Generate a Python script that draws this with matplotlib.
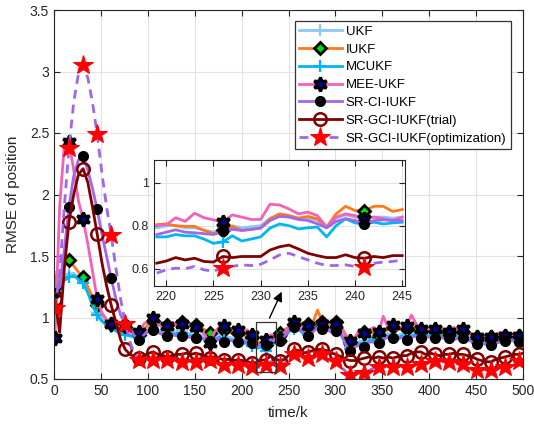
import numpy as np
import matplotlib
matplotlib.use("Agg")
import matplotlib.pyplot as plt
from matplotlib.patches import Rectangle

plt.rcParams['font.family'] = ['Liberation Sans', 'DejaVu Sans']

# ---------------- data (RMSE of position, sampled every 5 steps) ----------------
time_k = np.r_[np.arange(1, 500, 5), 500]

ukf = [1.33, 1.28, 1.32, 1.35, 1.36, 1.33, 1.30, 1.22, 1.12, 1.04,
       0.99, 0.96, 0.94, 0.91, 0.89, 0.88, 0.86, 0.85, 0.84, 0.87,
       0.90, 0.92, 0.90, 0.88, 0.88, 0.89, 0.88, 0.89, 0.87, 0.87,
       0.86, 0.86, 0.84, 0.83, 0.84, 0.86, 0.84, 0.84, 0.83, 0.82,
       0.82, 0.83, 0.81, 0.79, 0.80, 0.79, 0.83, 0.82, 0.82, 0.86,
       0.91, 0.93, 0.92, 0.89, 0.88, 0.90, 0.95, 0.93, 0.92, 0.90,
       0.91, 0.88, 0.81, 0.76, 0.79, 0.81, 0.80, 0.83, 0.83, 0.82,
       0.85, 0.87, 0.86, 0.85, 0.87, 0.85, 0.87, 0.88, 0.86, 0.87,
       0.87, 0.86, 0.87, 0.86, 0.86, 0.85, 0.86, 0.86, 0.85, 0.83,
       0.81, 0.82, 0.81, 0.81, 0.82, 0.83, 0.83, 0.84, 0.83, 0.82,
       0.83]

iukf = [1.25, 1.35, 1.42, 1.47, 1.42, 1.37, 1.33, 1.25, 1.17, 1.10,
        1.03, 0.98, 0.95, 0.93, 0.92, 0.92, 0.90, 0.87, 0.86, 0.90,
        0.95, 0.97, 0.95, 0.92, 0.94, 0.93, 0.95, 0.965, 0.95, 0.93,
        0.94, 0.92, 0.90, 0.87, 0.88, 0.90, 0.90, 0.88, 0.87, 0.87,
        0.86, 0.85, 0.84, 0.80, 0.80, 0.775, 0.83, 0.83, 0.87, 0.90,
        0.93, 0.95, 0.97, 0.93, 0.95, 0.96, 1.06, 0.965, 0.95, 0.94,
        0.965, 0.93, 0.86, 0.80, 0.84, 0.88, 0.88, 0.90, 0.87, 0.84,
        0.88, 0.90, 0.92, 0.90, 0.92, 0.91, 0.93, 0.92, 0.89, 0.90,
        0.90, 0.90, 0.91, 0.89, 0.88, 0.89, 0.87, 0.88, 0.87, 0.86,
        0.84, 0.85, 0.86, 0.84, 0.86, 0.87, 0.85, 0.86, 0.85, 0.85,
        0.86]

mcukf = [1.30, 1.25, 1.30, 1.33, 1.34, 1.31, 1.28, 1.20, 1.10, 1.02,
         0.97, 0.94, 0.92, 0.89, 0.87, 0.86, 0.85, 0.84, 0.83, 0.86,
         0.89, 0.90, 0.88, 0.86, 0.86, 0.87, 0.86, 0.87, 0.85, 0.85,
         0.84, 0.84, 0.82, 0.80, 0.82, 0.84, 0.82, 0.82, 0.81, 0.80,
         0.79, 0.79, 0.77, 0.75, 0.76, 0.725, 0.79, 0.79, 0.81, 0.84,
         0.89, 0.91, 0.90, 0.87, 0.86, 0.89, 0.94, 0.92, 0.91, 0.88,
         0.89, 0.86, 0.80, 0.74, 0.77, 0.79, 0.78, 0.81, 0.82, 0.80,
         0.83, 0.85, 0.84, 0.83, 0.85, 0.83, 0.85, 0.86, 0.84, 0.85,
         0.85, 0.84, 0.85, 0.84, 0.84, 0.83, 0.84, 0.84, 0.83, 0.81,
         0.79, 0.80, 0.79, 0.79, 0.80, 0.81, 0.81, 0.82, 0.81, 0.80,
         0.81]

mee_ukf = [0.83, 1.90, 2.40, 2.43, 2.20, 1.95, 1.80, 1.60, 1.38, 1.15,
           1.04, 0.98, 0.95, 0.93, 0.92, 0.93, 0.90, 0.88, 0.88, 0.95,
           0.97, 1.00, 0.95, 0.92, 0.93, 0.96, 0.94, 0.95, 0.93, 0.95,
           0.92, 0.90, 0.86, 0.79, 0.88, 0.92, 0.93, 0.90, 0.92, 0.90,
           0.88, 0.90, 0.86, 0.83, 0.84, 0.82, 0.86, 0.85, 0.835, 0.88,
           0.93, 0.965, 0.95, 0.92, 0.93, 0.95, 0.97, 0.95, 0.96, 0.93,
           0.95, 0.92, 0.85, 0.81, 0.84, 0.90, 0.87, 0.90, 0.92, 0.88,
           1.01, 0.92, 0.935, 0.90, 0.92, 0.93, 1.02, 0.95, 0.905, 0.92,
           0.90, 0.905, 0.92, 0.90, 0.88, 0.92, 0.90, 0.905, 0.88, 0.86,
           0.84, 0.86, 0.85, 0.84, 0.86, 0.88, 0.85, 0.87, 0.86, 0.85,
           0.86]

sr_ci_iukf = [1.20, 1.25, 1.55, 1.90, 2.15, 2.28, 2.31, 2.20, 2.05, 1.88,
              1.68, 1.50, 1.32, 1.15, 1.02, 0.95, 0.90, 0.85, 0.82, 0.86,
              0.90, 0.90, 0.88, 0.86, 0.85, 0.86, 0.85, 0.85, 0.84, 0.84,
              0.83, 0.84, 0.82, 0.81, 0.82, 0.83, 0.80, 0.82, 0.81, 0.80,
              0.80, 0.81, 0.79, 0.77, 0.78, 0.775, 0.82, 0.81, 0.805, 0.85,
              0.90, 0.92, 0.90, 0.88, 0.85, 0.88, 0.92, 0.91, 0.90, 0.88,
              0.89, 0.86, 0.78, 0.73, 0.76, 0.78, 0.76, 0.80, 0.80, 0.79,
              0.82, 0.84, 0.83, 0.82, 0.84, 0.82, 0.84, 0.85, 0.83, 0.84,
              0.84, 0.83, 0.84, 0.83, 0.83, 0.82, 0.83, 0.83, 0.82, 0.80,
              0.785, 0.79, 0.78, 0.78, 0.79, 0.80, 0.81, 0.82, 0.81, 0.80,
              0.81]

sr_gci_trial = [1.15, 0.88, 1.40, 1.78, 2.00, 2.16, 2.21, 2.10, 1.90, 1.68,
                1.45, 1.26, 1.10, 0.96, 0.82, 0.74, 0.70, 0.68, 0.67, 0.69,
                0.71, 0.72, 0.70, 0.69, 0.68, 0.69, 0.70, 0.70, 0.71, 0.70,
                0.71, 0.70, 0.69, 0.67, 0.68, 0.67, 0.655, 0.66, 0.65, 0.655,
                0.65, 0.64, 0.63, 0.635, 0.652, 0.657, 0.687, 0.661, 0.649, 0.66,
                0.70, 0.74, 0.73, 0.71, 0.72, 0.73, 0.74, 0.74, 0.73, 0.71,
                0.70, 0.68, 0.66, 0.65, 0.65, 0.66, 0.67, 0.68, 0.67, 0.68,
                0.67, 0.68, 0.67, 0.68, 0.69, 0.69, 0.71, 0.72, 0.72, 0.70,
                0.71, 0.70, 0.69, 0.70, 0.70, 0.71, 0.70, 0.70, 0.69, 0.68,
                0.66, 0.65, 0.64, 0.64, 0.66, 0.67, 0.68, 0.69, 0.70, 0.70,
                0.71]

sr_gci_opt = [1.08, 1.35, 1.90, 2.38, 2.75, 2.98, 3.05, 2.95, 2.75, 2.49,
              2.18, 1.90, 1.67, 1.40, 1.15, 0.95, 0.80, 0.70, 0.655, 0.65,
              0.65, 0.655, 0.65, 0.655, 0.655, 0.65, 0.645, 0.64, 0.645, 0.64,
              0.64, 0.645, 0.65, 0.655, 0.64, 0.62, 0.61, 0.615, 0.61, 0.61,
              0.61, 0.60, 0.60, 0.59, 0.603, 0.61, 0.641, 0.626, 0.607, 0.63,
              0.67, 0.70, 0.69, 0.67, 0.67, 0.68, 0.70, 0.70, 0.69, 0.67,
              0.65, 0.60, 0.56, 0.53, 0.55, 0.56, 0.55, 0.57, 0.59, 0.60,
              0.60, 0.61, 0.60, 0.60, 0.61, 0.60, 0.61, 0.62, 0.62, 0.63,
              0.64, 0.645, 0.64, 0.64, 0.64, 0.63, 0.62, 0.62, 0.60, 0.58,
              0.57, 0.57, 0.575, 0.575, 0.59, 0.60, 0.60, 0.62, 0.63, 0.645,
              0.65]

# ---------------- zoomed window, every step from 219 to 245 ----------------
zoom_k = np.arange(219, 246)
zoom_ukf = [0.79, 0.80, 0.80, 0.79, 0.79, 0.78, 0.77, 0.785, 0.80, 0.79,
            0.795, 0.80, 0.835, 0.85, 0.845, 0.835, 0.835, 0.825, 0.795, 0.835,
            0.85, 0.84, 0.825, 0.84, 0.84, 0.835, 0.84]
zoom_iukf = [0.805, 0.808, 0.80, 0.797, 0.797, 0.778, 0.763, 0.778, 0.797, 0.778,
             0.783, 0.789, 0.832, 0.855, 0.847, 0.835, 0.843, 0.832, 0.794, 0.855,
             0.890, 0.870, 0.870, 0.890, 0.890, 0.866, 0.875]
zoom_mcukf = [0.748, 0.748, 0.759, 0.753, 0.753, 0.738, 0.718, 0.725, 0.753, 0.729,
              0.738, 0.748, 0.789, 0.808, 0.80, 0.785, 0.79, 0.794, 0.748, 0.80,
              0.832, 0.813, 0.808, 0.816, 0.808, 0.813, 0.816]
zoom_mee = [0.801, 0.804, 0.837, 0.820, 0.858, 0.837, 0.827, 0.817, 0.850, 0.840,
            0.829, 0.829, 0.900, 0.896, 0.878, 0.855, 0.863, 0.847, 0.794, 0.840,
            0.855, 0.847, 0.832, 0.840, 0.832, 0.824, 0.840]
zoom_srci = [0.759, 0.770, 0.781, 0.770, 0.767, 0.763, 0.759, 0.774, 0.783, 0.778,
             0.783, 0.789, 0.824, 0.843, 0.840, 0.829, 0.824, 0.809, 0.790, 0.820,
             0.832, 0.824, 0.806, 0.824, 0.827, 0.824, 0.824]
zoom_trial = [0.626, 0.636, 0.652, 0.641, 0.649, 0.634, 0.631, 0.657, 0.652, 0.657,
              0.657, 0.657, 0.687, 0.702, 0.710, 0.692, 0.672, 0.661, 0.652, 0.652,
              0.665, 0.652, 0.649, 0.657, 0.652, 0.661, 0.661]
zoom_opt = [0.580, 0.595, 0.603, 0.600, 0.611, 0.595, 0.588, 0.605, 0.611, 0.618,
            0.615, 0.621, 0.641, 0.664, 0.672, 0.657, 0.641, 0.626, 0.615, 0.615,
            0.618, 0.611, 0.607, 0.626, 0.631, 0.634, 0.641]

labels = ['UKF', 'IUKF', 'MCUKF', 'MEE-UKF', 'SR-CI-IUKF',
          'SR-GCI-IUKF(trial)', 'SR-GCI-IUKF(optimization)']

hexagram = (6, 1, 0)
styles = [
    dict(color='#8CC8F4', ls='-', marker='+', ms=9, mec='#8CC8F4', mew=1.6),
    dict(color='#FF7A1A', ls='-', marker='D', ms=6.5, mec='black', mfc='#00E000', mew=2.0),
    dict(color='#00B6F2', ls='-', marker='+', ms=9, mec='#00B6F2', mew=1.6),
    dict(color='#F262BA', ls='-', marker=hexagram, ms=10, mec='black', mfc='#0000B0', mew=2.2),
    dict(color='#A268E6', ls='-', marker='o', ms=7, mec='black', mfc='black', mew=1.0),
    dict(color='#800000', ls='-', marker='o', ms=9, mec='#800000', mfc='none', mew=1.8),
    dict(color='#A066EA', ls=(0, (3.2, 2.2)), marker='*', ms=15, mec='#FF0000', mfc='#FF0000', mew=0.8),
]

main_series = [ukf, iukf, mcukf, mee_ukf, sr_ci_iukf, sr_gci_trial, sr_gci_opt]
zoom_series = [zoom_ukf, zoom_iukf, zoom_mcukf, zoom_mee, zoom_srci, zoom_trial, zoom_opt]

fig = plt.figure(figsize=(5.34, 4.28), dpi=100)
ax = fig.add_axes([54 / 534, 1 - 379 / 428, 469 / 534, 369 / 428])

grid_col = '#E3E3E3'
axis_col = '#262626'

def matlab_style(a, fs):
    a.grid(True, color=grid_col, lw=0.8)
    a.set_axisbelow(True)
    a.tick_params(direction='in', top=True, right=True, labelsize=fs,
                  colors=axis_col, length=4, width=0.8)
    for s in a.spines.values():
        s.set_color(axis_col)
        s.set_linewidth(0.8)

marker_idx = list(range(0, 100, 3))
for vals, st, lab in zip(main_series, styles, labels):
    ax.plot(time_k, vals, lw=2.0, markevery=marker_idx, label=lab, **st)

ax.set_xlim(0, 500)
ax.set_ylim(0.5, 3.5)
ax.set_xticks(np.arange(0, 501, 50))
ax.set_yticks(np.arange(0.5, 3.51, 0.5))
ax.set_yticklabels(['0.5', '1', '1.5', '2', '2.5', '3', '3.5'])
matlab_style(ax, 10)
ax.set_xlabel('time/k', fontsize=11, color=axis_col, labelpad=6)
ax.set_ylabel('RMSE of position', fontsize=11, color=axis_col, labelpad=7)

leg = ax.legend(loc='upper right', bbox_to_anchor=(0.974, 0.970), fontsize=9.5,
                fancybox=False, edgecolor='#333333', framealpha=1,
                handlelength=3.2, handletextpad=0.3, labelspacing=0.42,
                borderpad=0.35, borderaxespad=0, numpoints=1)
leg.get_frame().set_linewidth(0.9)

# zoom box and pointer
ax.add_patch(Rectangle((215.5, 0.555), 21, 0.41, fill=False,
                       ec='#333333', lw=0.9, zorder=5))
ax.annotate('', xy=(244, 1.23), xytext=(228.5, 0.975),
            arrowprops=dict(arrowstyle='-|>', color='black', lw=1.0,
                            mutation_scale=14), zorder=6)

# inset
ins = fig.add_axes([154 / 534, 1 - 286 / 428, 251 / 534, 126 / 428])
for vals, st in zip(zoom_series, styles):
    ins.plot(zoom_k, vals, lw=2.0, markevery=[7, 22], **st)
ins.set_xlim(218.7, 245.3)
ins.set_ylim(0.52, 1.105)
ins.set_xticks(np.arange(220, 246, 5))
ins.set_yticks([0.6, 0.8, 1.0])
ins.set_yticklabels(['0.6', '0.8', '1'])
matlab_style(ins, 9)

fig.savefig('out.png', dpi=100)
